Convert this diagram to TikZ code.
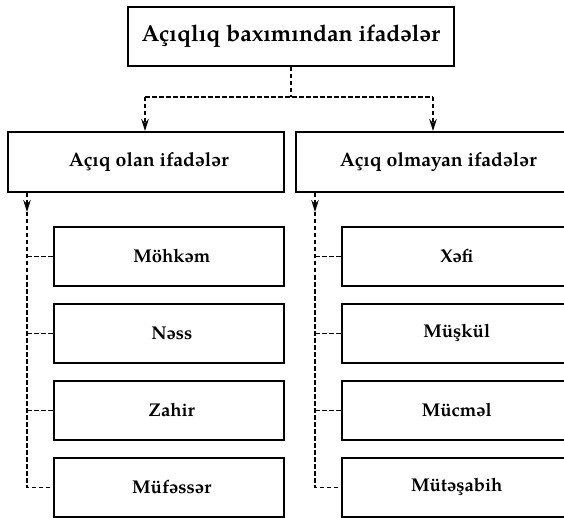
\documentclass[tikz,border=0pt]{standalone}
\usepackage{fontspec}
\setmainfont{TeX Gyre Pagella}
\usetikzlibrary{arrows.meta}
\begin{document}
\begin{tikzpicture}[x=1pt,y=-1pt,
  box/.style={draw,line width=1.6pt,anchor=north west,inner sep=0pt,
    minimum height=59pt,font=\bfseries},
  topbox/.style={box,font=\fontsize{23}{26}\selectfont\bfseries},
  midbox/.style={box,minimum height=60pt,font=\fontsize{19.5}{23}\selectfont\bfseries},
  leafbox/.style={box,font=\fontsize{18.5}{22}\selectfont\bfseries},
  link/.style={line width=1.5pt,dash pattern=on 4.5pt off 2.5pt},
  tip/.style={-{Stealth[length=12pt,width=7.5pt]}}]
\useasboundingbox (0,0) rectangle (564,518);

% top level
\node[topbox,minimum width=326pt] (root) at (127,6) {Açıqlıq baxımından ifadələr};

% second level
\node[midbox,minimum width=276pt] (open) at (7,131) {\hspace*{6pt}Açıq olan ifadələr};
\node[midbox,minimum width=285pt] (closed) at (295,131) {Açıq olmayan ifadələr};

% leaves of the left branch
\node[leafbox,minimum width=230pt] (l1) at (53,226) {\hspace*{6pt}Möhkəm};
\node[leafbox,minimum width=230pt] (l2) at (53,303) {\hspace*{6pt}Nəss};
\node[leafbox,minimum width=230pt] (l3) at (53,380) {\hspace*{6pt}Zahir};
\node[leafbox,minimum width=230pt] (l4) at (53,457) {\hspace*{6pt}Müfəssər};

% leaves of the right branch
\node[leafbox,minimum width=240pt] (r1) at (341,226) {\hspace*{-10pt}Xəfi};
\node[leafbox,minimum width=240pt] (r2) at (341,303) {\hspace*{-10pt}Müşkül};
\node[leafbox,minimum width=240pt] (r3) at (341,380) {\hspace*{-10pt}Mücməl};
\node[leafbox,minimum width=240pt] (r4) at (341,457) {\hspace*{-10pt}Mütəşabih};

% root to the two branches
\coordinate (splitL) at (145,97);
\coordinate (splitR) at (433,97);
\draw[link] (root.south) -- (root.south |- splitL);
\draw[link] (splitL) -- (splitR);
\draw[link,tip] (splitL) -- (splitL |- open.north);
\draw[link,tip] (splitR) -- (splitR |- closed.north);

% left branch spine
\coordinate (spL) at (27,0);
\coordinate (arL) at (27,212);
\draw[link,tip] (spL |- open.south) -- (arL);
\draw[link] (arL) -- (spL |- l4.west) -- (l4.west);
\foreach \n in {l1,l2,l3} \draw[link] (spL |- \n.west) -- (\n.west);

% right branch spine
\coordinate (spR) at (315,0);
\coordinate (arR) at (315,212);
\draw[link,tip] (spR |- closed.south) -- (arR);
\draw[link] (arR) -- (spR |- r4.west) -- (r4.west);
\foreach \n in {r1,r2,r3} \draw[link] (spR |- \n.west) -- (\n.west);
\end{tikzpicture}
\end{document}
